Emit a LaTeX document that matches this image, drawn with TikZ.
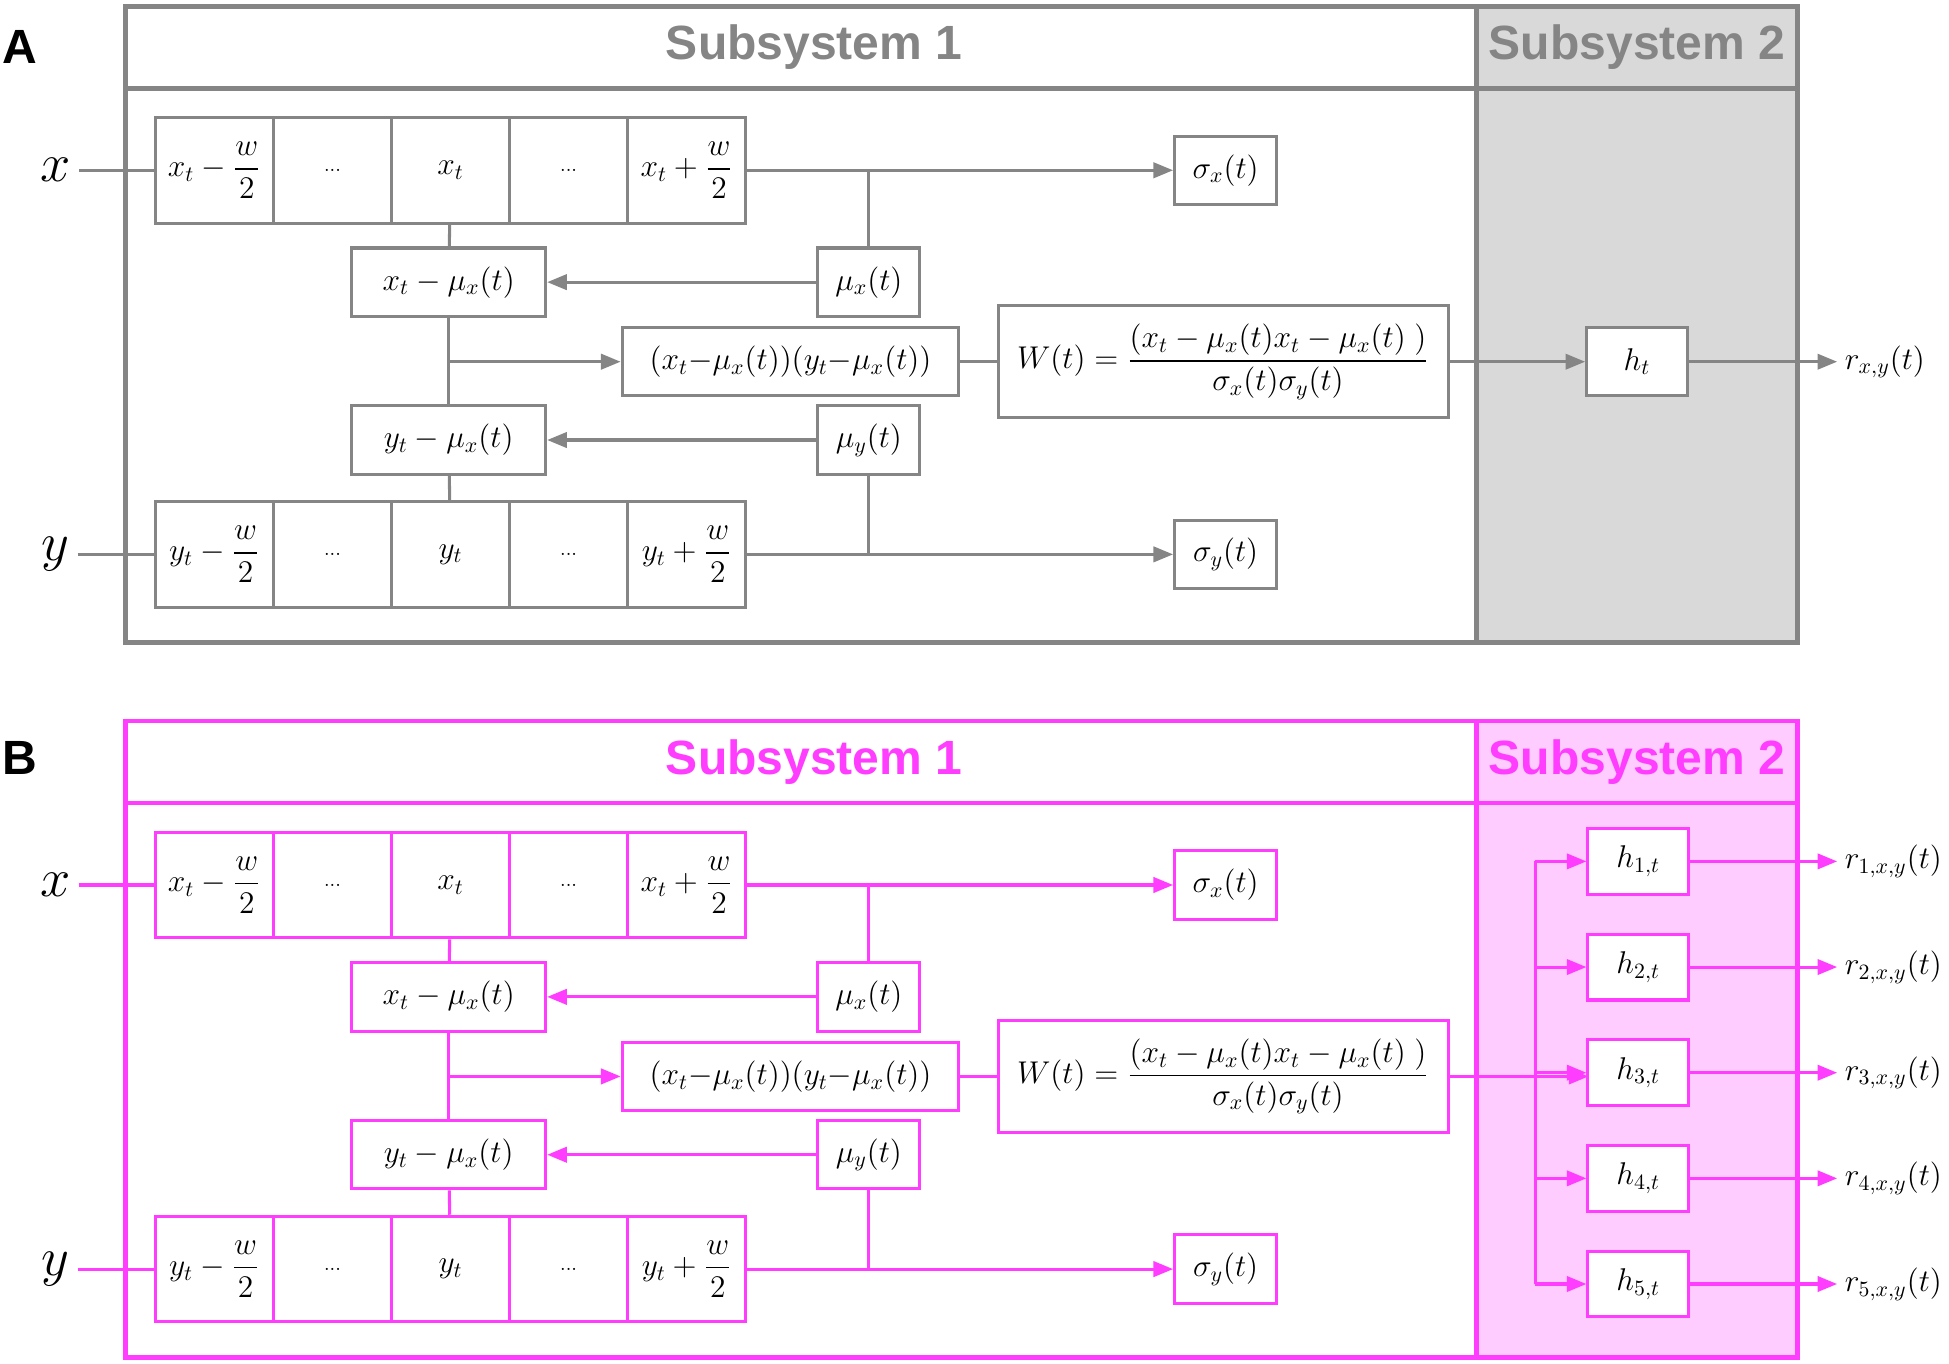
\documentclass[tikz,border=0pt]{standalone}
\usepackage{fontspec}
\usepackage{amsmath}
\newfontfamily\titlefont{Liberation Sans}
\usetikzlibrary{arrows.meta}
\definecolor{gA}{HTML}{858585}
\definecolor{gAf}{HTML}{D9D9D9}
\definecolor{mB}{HTML}{FF3DFF}
\definecolor{mBf}{HTML}{FFCCFF}
\tikzset{
  frame/.style={line width=2.2pt},
  box/.style={draw, line width=1.4pt, fill=white, inner sep=1pt, font=\Large},
  cell/.style={box, minimum width=1.9cm, minimum height=1.7cm},
  small/.style={box, minimum width=1.64cm, minimum height=1.1cm},
  title/.style={font=\titlefont\bfseries\fontsize{22}{26}\selectfont},
  link/.style={line width=1.4pt},
  arr/.style={link, -{Triangle[length=9pt,width=7pt]}}
}
\begin{document}
\begin{tikzpicture}[x=0.02cm, y=-0.02cm]
  \useasboundingbox (0,0) rectangle (1568,1097);
  % panel letters
  \node[title, font=\titlefont\bfseries\fontsize{22}{24}\selectfont] (lA) at (16,38) {A};
  \node[title, font=\titlefont\bfseries\fontsize{22}{24}\selectfont] (lB) at (16,610) {B};

  % the two panels share subsystem 1
  \foreach \p/\c/\f/\oy in {A/gA/gAf/0, B/mB/mBf/575} {
  \begin{scope}[shift={(0,\oy)}]
    % frame and headers
    \fill[\f] (1188,5) rectangle (1446,517);
    \draw[\c, frame] (101,5) rectangle (1446,517);
    \draw[\c, frame] (101,71) -- (1446,71);
    \draw[\c, frame] (1188,5) -- (1188,517);
    \node[title, text=\c] (\p t1) at (655,38) {Subsystem 1};
    \node[title, text=\c] (\p t2) at (1317,38) {Subsystem 2};

    % sliding windows
    \foreach \i/\a/\b in {1/{x_t-\dfrac{w}{2}}/{y_t-\dfrac{w}{2}}, 2/{\text{\small...}}/{\text{\small...}}, 3/{x_t}/{y_t},
                          4/{\text{\small...}}/{\text{\small...}}, 5/{x_t+\dfrac{w}{2}}/{y_t+\dfrac{w}{2}}} {
      \node[cell, draw=\c] (\p x\i) at ({77.5+95*\i},137) {$\a$};
      \node[cell, draw=\c] (\p y\i) at ({77.5+95*\i},446) {$\b$};
    }
    \node[font=\Huge] (\p xin) at (45,137) {$x$};
    \node[font=\Huge] (\p yin) at (45,446) {$y$};
    \draw[\c, link] (\p xin) -- (\p x1);
    \draw[\c, link] (\p yin) -- (\p y1);

    % statistics
    \node[small, draw=\c] (\p sx) at (986,137) {$\sigma_x(t)$};
    \node[small, draw=\c] (\p sy) at (986,446) {$\sigma_y(t)$};
    \node[small, draw=\c] (\p mx) at (699,227) {$\mu_x(t)$};
    \node[small, draw=\c] (\p my) at (699,354) {$\mu_y(t)$};
    \node[box, draw=\c, minimum width=3.12cm, minimum height=1.1cm] (\p dx) at (361,227) {$x_t-\mu_x(t)$};
    \node[box, draw=\c, minimum width=3.12cm, minimum height=1.1cm] (\p dy) at (361,354) {$y_t-\mu_x(t)$};
    \node[box, draw=\c, minimum width=5.42cm, minimum height=1.1cm] (\p pr) at (636,291)
      {$(x_t{-}\mu_x(t))(y_t{-}\mu_x(t))$};
    \node[box, draw=\c, minimum width=7.24cm, minimum height=1.8cm] (\p W) at (984,291)
      {$W(t)=\dfrac{(x_t-\mu_x(t)x_t-\mu_x(t)\;)}{\sigma_x(t)\sigma_y(t)}$};

    % connections
    \draw[\c, arr] (\p x5) -- (\p sx);
    \draw[\c, arr] (\p y5) -- (\p sy);
    \draw[\c, link] (\p mx |- \p x5) -- (\p mx);
    \draw[\c, link] (\p my |- \p y5) -- (\p my);
    \draw[\c, arr] (\p mx) -- (\p dx);
    \draw[\c, arr] (\p my) -- (\p dy);
    \draw[\c, link] (\p x3) -- (\p dx);
    \draw[\c, link] (\p y3) -- (\p dy);
    \draw[\c, link] (\p dx) -- (\p dy);
    \draw[\c, arr] (\p dx |- \p pr) -- (\p pr);
    \draw[\c, link] (\p pr) -- (\p W);
  \end{scope}
  }

  % subsystem 2, panel A
  \node[small, draw=gA, minimum width=1.62cm] (Ah) at (1317,291) {$h_t$};
  \node[font=\Large, anchor=west] (Ar) at (1478,291) {$r_{x,y}(t)$};
  \draw[gA, arr] (AW) -- (Ah);
  \draw[gA, arr] (Ah) -- (Ar);

  % subsystem 2, panel B
  \coordinate (bt) at (1235,693);
  \coordinate (bb) at (1235,1033);
  \draw[mB, arr] (BW) -- (1278,866);
  \draw[mB, link] (bt) -- (bb);
  \foreach \k in {1,...,5} {
    \node[small, draw=mB, minimum width=1.62cm, minimum height=1.06cm] (h\k) at (1318,{608+85*\k}) {$h_{\k,t}$};
    \node[font=\Large, anchor=west] (r\k) at (1478,{608+85*\k}) {$r_{\k,x,y}(t)$};
    \draw[mB, arr] (bt |- h\k) -- (h\k);
    \draw[mB, arr] (h\k) -- (r\k);
  }
\end{tikzpicture}
\end{document}
